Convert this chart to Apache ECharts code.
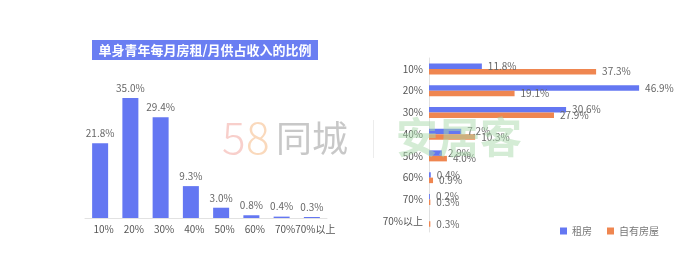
<!DOCTYPE html>
<html>
<head>
<meta charset="utf-8">
<script src="https://cdn.jsdelivr.net/npm/echarts@6/dist/echarts.min.js"></script>
<style>html,body{margin:0;padding:0;background:#fff;}#c{width:700px;height:264px;}</style>
</head>
<body>
<div id="c"></div>
<script>
var titleText = '单身青年每月房租/月供占收入的比例';
var leftCategories = ['10%', '20%', '30%', '40%', '50%', '60%', '70%', '70%以上'];
var leftValues = [21.8, 35.0, 29.4, 9.3, 3.0, 0.8, 0.4, 0.3];
var rightCategories = ['10%', '20%', '30%', '40%', '50%', '60%', '70%', '70%以上'];
var rentValues = [11.8, 46.9, 30.6, 7.2, 2.9, 0.4, 0.2, '-'];
var ownValues = [37.3, 19.1, 27.9, 10.3, 4.0, 0.9, 0.3, 0.3];
var seriesNames = ['租房', '自有房屋'];

var FONT = '"Noto Sans CJK SC", "Noto Sans", sans-serif';
var BLUE = '#6477f2';
var ORANGE = '#ef8650';

var chart = echarts.init(document.getElementById('c'), null, {renderer: 'canvas'});
var pct = function (p) { return Number(p.value).toFixed(1) + '%'; };
var option = {
  backgroundColor: '#fff',
  animation: false,
  textStyle: {fontFamily: FONT},
  legend: {
    data: seriesNames,
    left: 555, top: 221,
    itemWidth: 7, itemHeight: 7, itemGap: 15, icon: 'rect',
    textStyle: {fontSize: 10, color: '#777', fontFamily: FONT}
  },
  grid: [
    {left: 85, top: 98, width: 242, height: 120},
    {left: 429, top: 58, width: 224, height: 174}
  ],
  xAxis: [
    {
      type: 'category', gridIndex: 0, data: leftCategories,
      axisTick: {show: false},
      axisLine: {lineStyle: {color: '#e2e2e2'}},
      axisLabel: {interval: 0, fontSize: 10, color: '#555', margin: 6, padding: [0, 0, 0, 7], fontFamily: FONT}
    },
    {type: 'value', gridIndex: 1, min: 0, max: 50, show: false}
  ],
  yAxis: [
    {type: 'value', gridIndex: 0, min: 0, max: 35, show: false},
    {
      type: 'category', gridIndex: 1, data: rightCategories, inverse: true,
      axisTick: {show: false},
      axisLine: {lineStyle: {color: '#e2e2e2'}},
      axisLabel: {interval: 0, fontSize: 10, color: '#555', margin: 6, fontFamily: FONT}
    }
  ],
  series: [
    {
      type: 'bar', xAxisIndex: 0, yAxisIndex: 0, data: leftValues,
      barWidth: 16, itemStyle: {color: BLUE},
      label: {show: true, position: 'top', distance: 5, fontSize: 10, color: '#666', formatter: pct}
    },
    {
      name: seriesNames[0], type: 'bar', xAxisIndex: 1, yAxisIndex: 1, data: rentValues,
      barWidth: 5.5, barGap: '0%', itemStyle: {color: BLUE},
      label: {show: true, position: 'right', distance: 6, fontSize: 10, color: '#666', formatter: pct}
    },
    {
      name: seriesNames[1], type: 'bar', xAxisIndex: 1, yAxisIndex: 1, data: ownValues,
      barWidth: 5.5, barGap: '0%', itemStyle: {color: ORANGE},
      label: {show: true, position: 'right', distance: 6, fontSize: 10, color: '#666', formatter: pct}
    }
  ],
  graphic: [
    {
      type: 'rect', shape: {x: 92, y: 40, width: 226, height: 20},
      style: {fill: '#6a7ef2'}
    },
    {
      type: 'text', x: 205, y: 50,
      style: {text: titleText, fill: '#fff', font: 'bold 13px ' + FONT, align: 'center', verticalAlign: 'middle'}
    },
    {
      type: 'text', x: 222, y: 137,
      style: {text: '5', fill: '#f2a7a0', opacity: 0.55, font: '300 44px ' + FONT, verticalAlign: 'middle'}
    },
    {
      type: 'text', x: 246, y: 137,
      style: {text: '8', fill: '#f7c08f', opacity: 0.6, font: '300 44px ' + FONT, verticalAlign: 'middle'}
    },
    {
      type: 'text', x: 276, y: 138,
      style: {text: '同城', fill: '#b5b5b5', opacity: 0.75, font: '36px ' + FONT, verticalAlign: 'middle'}
    },
    {
      type: 'rect', shape: {x: 373, y: 120, width: 1, height: 38},
      style: {fill: '#ececec'}
    },
    {
      type: 'text', x: 396, y: 137, z: 100,
      style: {text: '安居客', fill: '#a9d9ac', opacity: 0.5, font: 'bold 42px ' + FONT, verticalAlign: 'middle'}
    }
  ]
};
chart.setOption(option);
</script>
</body>
</html>
